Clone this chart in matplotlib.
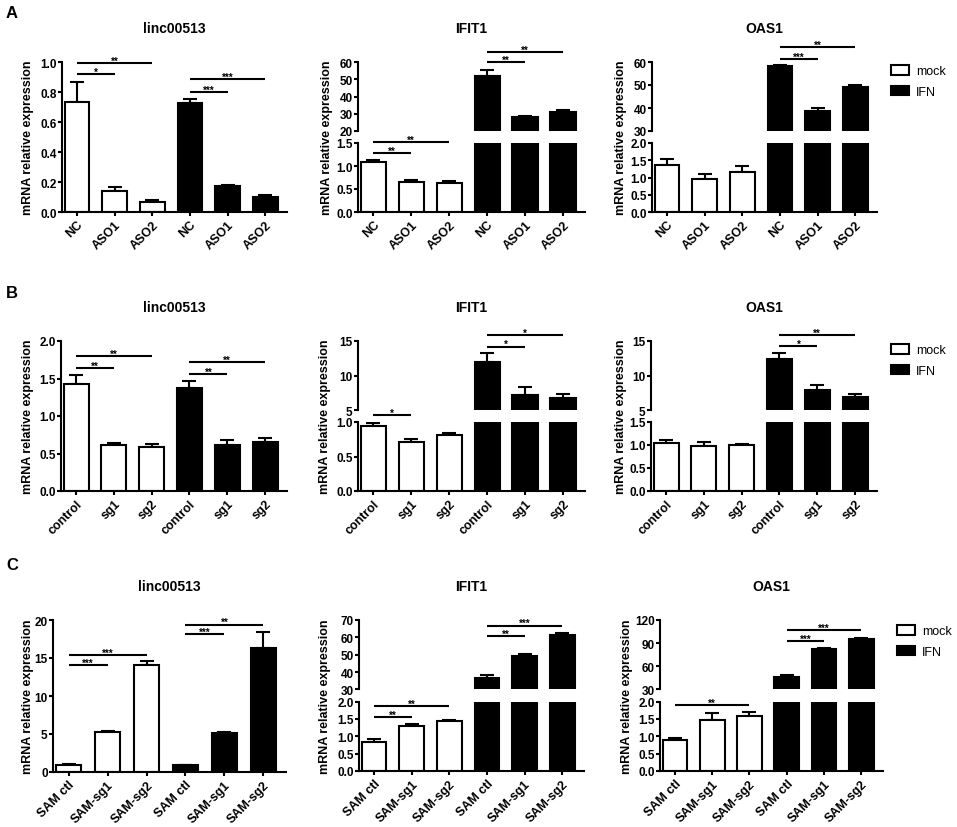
import matplotlib
matplotlib.use('Agg')
import matplotlib.pyplot as plt
from matplotlib.patches import Patch
from matplotlib.ticker import FormatStrFormatter
import numpy as np

plt.rcParams['font.family'] = ['Liberation Sans', 'DejaVu Sans']
plt.rcParams['font.weight'] = 'bold'

W, H = 957, 828

# ---- data ----
labels_a = ['NC', 'ASO1', 'ASO2', 'NC', 'ASO1', 'ASO2']
labels_b = ['control', 'sg1', 'sg2', 'control', 'sg1', 'sg2']
labels_c = ['SAM ctl', 'SAM-sg1', 'SAM-sg2', 'SAM ctl', 'SAM-sg1', 'SAM-sg2']

a_linc = [0.735, 0.14, 0.066, 0.73, 0.172, 0.097]
a_linc_err = [0.13, 0.026, 0.012, 0.026, 0.01, 0.014]
a_ifit = [1.08, 0.65, 0.62, 51.6, 28.0, 30.9]
a_ifit_err = [0.06, 0.05, 0.045, 3.6, 0.6, 1.5]
a_oas = [1.37, 0.95, 1.16, 58.3, 38.6, 49.0]
a_oas_err = [0.18, 0.16, 0.16, 0.5, 1.3, 1.1]

b_linc = [1.425, 0.61, 0.593, 1.376, 0.61, 0.65]
b_linc_err = [0.125, 0.036, 0.03, 0.09, 0.067, 0.062]
b_ifit = [0.94, 0.715, 0.816, 11.9, 7.16, 6.8]
b_ifit_err = [0.045, 0.035, 0.02, 1.3, 1.2, 0.55]
b_oas = [1.05, 0.978, 1.01, 12.36, 7.88, 6.83]
b_oas_err = [0.06, 0.09, 0.015, 0.95, 0.72, 0.5]

c_linc = [0.88, 5.26, 14.08, 0.88, 5.13, 16.36]
c_linc_err = [0.12, 0.18, 0.48, 0.08, 0.13, 2.06]
c_ifit = [0.846, 1.30, 1.43, 36.6, 49.5, 61.5]
c_ifit_err = [0.085, 0.056, 0.03, 1.9, 1.0, 1.3]
c_oas = [0.894, 1.47, 1.59, 45.8, 82.5, 95.3]
c_oas_err = [0.07, 0.19, 0.1, 3.4, 1.2, 0.9]

# significance brackets: (from bar, to bar, stars, height[, segment])
a_linc_sig = [(0, 1, '*', 0.92), (0, 2, '**', 0.995), (3, 4, '***', 0.80), (3, 5, '***', 0.885)]
a_ifit_sig = [(0, 1, '**', 1.28, 'lo'), (0, 2, '**', 1.52, 'lo'), (3, 4, '**', 60, 'hi'), (3, 5, '**', 66, 'hi')]
a_oas_sig = [(3, 4, '***', 61.4, 'hi'), (3, 5, '**', 66.5, 'hi')]
b_linc_sig = [(0, 1, '**', 1.64), (0, 2, '**', 1.80), (3, 4, '**', 1.56), (3, 5, '**', 1.72)]
b_ifit_sig = [(0, 1, '*', 1.10, 'lo'), (3, 4, '*', 14.2, 'hi'), (3, 5, '*', 15.8, 'hi')]
b_oas_sig = [(3, 4, '*', 14.3, 'hi'), (3, 5, '**', 15.8, 'hi')]
c_linc_sig = [(0, 1, '***', 14.1), (0, 2, '***', 15.4), (3, 4, '***', 18.1), (3, 5, '**', 19.4)]
c_ifit_sig = [(0, 1, '**', 1.55, 'lo'), (0, 2, '**', 1.88, 'lo'), (3, 4, '**', 60.7, 'hi'), (3, 5, '***', 66.8, 'hi')]
c_oas_sig = [(0, 2, '**', 1.91, 'lo'), (3, 4, '***', 92.3, 'hi'), (3, 5, '***', 106.8, 'hi')]

LW = 1.5
fig = plt.figure(figsize=(W / 100, H / 100), dpi=100)


def px_axes(left, top, right, bottom):
    return fig.add_axes([left / W, 1 - bottom / H, (right - left) / W, (bottom - top) / H])


def style(ax, xlabels=None):
    for s in ['top', 'right']:
        ax.spines[s].set_visible(False)
    for s in ['left', 'bottom']:
        ax.spines[s].set_linewidth(LW)
    ax.tick_params(direction='out', length=3, width=LW, labelsize=8.5, pad=0.8)
    ax.tick_params(axis='x', labelsize=9, pad=1.5)
    ax.set_xlim(-0.4, 5.58)
    ax.set_xticks(np.arange(6))
    if xlabels is None:
        ax.spines['bottom'].set_visible(False)
        ax.tick_params(axis='x', length=0, labelbottom=False)
    else:
        ax.set_xticklabels(xlabels, rotation=45, ha='right', rotation_mode='anchor')


def draw_bars(ax, means, errs):
    x = np.arange(6)
    colors = ['white'] * 3 + ['black'] * 3
    ax.bar(x, means, width=0.66, color=colors, edgecolor='black', linewidth=LW, zorder=2)
    ax.errorbar(x, means, yerr=[np.zeros(6), errs], fmt='none', ecolor='black',
                elinewidth=LW, capsize=5, capthick=LW, zorder=1)


def sig(ax, i, j, s, y):
    ax.plot([i, j], [y, y], color='black', lw=LW, clip_on=False, solid_capstyle='butt')
    ax.annotate(s, xy=((i + j) / 2, y), xytext=(0, -0.5), textcoords='offset points',
                ha='center', va='baseline', fontsize=7, annotation_clip=False)


def labels(left, top, right, bottom, title, ylab_x):
    fig.text((left + right) / 2 / W, 1 - (top - 34) / H, title, ha='center', va='center', fontsize=10)
    fig.text(ylab_x / W, 1 - (top + bottom) / 2 / H, 'mRNA relative expression',
             rotation=90, ha='center', va='center', fontsize=9)


def simple_panel(box, means, errs, xlabels, ylim, yticks, fmt, sigs, title, ylab_x):
    ax = px_axes(*box)
    style(ax, xlabels)
    draw_bars(ax, means, errs)
    ax.set_ylim(*ylim)
    ax.set_yticks(yticks)
    ax.yaxis.set_major_formatter(FormatStrFormatter(fmt))
    for s in sigs:
        sig(ax, *s[:4])
    labels(*box, title, ylab_x)


def broken_panel(box, means, errs, xlabels, hi_lim, hi_ticks, lo_lim, lo_ticks, sigs, title, ylab_x):
    left, top, right, bottom = box
    hu = (bottom - top) * 0.46
    ax_hi = px_axes(left, top, right, top + hu)
    ax_lo = px_axes(left, bottom - hu, right, bottom)
    style(ax_hi)
    style(ax_lo, xlabels)
    for ax in (ax_hi, ax_lo):
        draw_bars(ax, means, errs)
    ax_hi.set_ylim(*hi_lim)
    ax_hi.set_yticks(hi_ticks)
    ax_hi.yaxis.set_major_formatter(FormatStrFormatter('%d'))
    ax_lo.set_ylim(*lo_lim)
    ax_lo.set_yticks(lo_ticks)
    ax_lo.yaxis.set_major_formatter(FormatStrFormatter('%.1f'))
    for s in sigs:
        sig(ax_hi if s[4] == 'hi' else ax_lo, *s[:4])
    labels(*box, title, ylab_x)


def legend(x, y):
    handles = [Patch(facecolor='white', edgecolor='black', linewidth=LW, label='mock'),
               Patch(facecolor='black', edgecolor='black', linewidth=LW, label='IFN')]
    fig.legend(handles=handles, loc='upper left', bbox_to_anchor=(x / W, 1 - y / H),
               frameon=False, borderpad=0, borderaxespad=0, handlelength=1.4,
               handleheight=0.8, handletextpad=0.6, labelspacing=0.7,
               prop={'size': 9, 'weight': 'normal'})


# ---- row A ----
simple_panel((62, 63, 287, 213), a_linc, a_linc_err, labels_a, (0, 1.0),
             np.arange(0, 1.01, 0.2), '%.1f', a_linc_sig, 'linc00513', 28)
broken_panel((358, 63, 585, 213), a_ifit, a_ifit_err, labels_a, (20, 60), [20, 30, 40, 50, 60],
             (0, 1.5), [0, 0.5, 1.0, 1.5], a_ifit_sig, 'IFIT1', 327)
broken_panel((652, 63, 877, 213), a_oas, a_oas_err, labels_a, (30, 60), [30, 40, 50, 60],
             (0, 2.0), [0, 0.5, 1.0, 1.5, 2.0], a_oas_sig, 'OAS1', 621)
legend(891, 66)

# ---- row B ----
simple_panel((61, 342, 287, 492), b_linc, b_linc_err, labels_b, (0, 2.0),
             np.arange(0, 2.01, 0.5), '%.1f', b_linc_sig, 'linc00513', 28)
broken_panel((358, 342, 585, 492), b_ifit, b_ifit_err, labels_b, (5, 15), [5, 10, 15],
             (0, 1.0), [0, 0.5, 1.0], b_ifit_sig, 'IFIT1', 325)
broken_panel((651, 342, 877, 492), b_oas, b_oas_err, labels_b, (5, 15), [5, 10, 15],
             (0, 1.5), [0, 0.5, 1.0, 1.5], b_oas_sig, 'OAS1', 621)
legend(891, 345)

# ---- row C ----
simple_panel((53, 621, 286, 773), c_linc, c_linc_err, labels_c, (0, 20),
             [0, 5, 10, 15, 20], '%d', c_linc_sig, 'linc00513', 28)
broken_panel((359, 621, 584, 772), c_ifit, c_ifit_err, labels_c, (30, 70), [30, 40, 50, 60, 70],
             (0, 2.0), [0, 0.5, 1.0, 1.5, 2.0], c_ifit_sig, 'IFIT1', 325)
broken_panel((660, 621, 883, 772), c_oas, c_oas_err, labels_c, (30, 120), [30, 60, 90, 120],
             (0, 2.0), [0, 0.5, 1.0, 1.5, 2.0], c_oas_sig, 'OAS1', 627)
legend(897, 626)

for letter, y in [('A', 13), ('B', 293), ('C', 565)]:
    fig.text(12 / W, 1 - y / H, letter, ha='center', va='center', fontsize=12)

fig.savefig('out.png', dpi=100)
